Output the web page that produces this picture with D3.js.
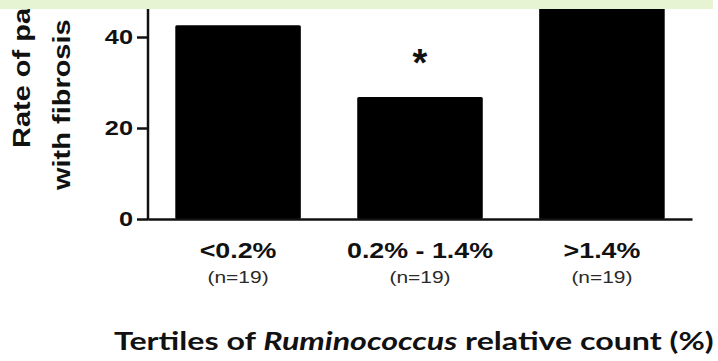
<!DOCTYPE html>
<html>
<head>
<meta charset="utf-8">
<script src="https://cdn.jsdelivr.net/npm/d3@7"></script>
<style>
  html, body { margin: 0; padding: 0; background: #fff; }
  svg { display: block; }
</style>
</head>
<body>
<script>
// Fibrosis rate by Ruminococcus tertile
const categories = ["<0.2%", "0.2% - 1.4%", ">1.4%"];
const groupSizes = ["(n=19)", "(n=19)", "(n=19)"];
const rates = [42.6, 26.8, 52.6];
const significance = ["", "*", ""];
const yTicks = [0, 20, 40];
const yLabelLines = ["Rate of patients", "with fibrosis"];
const xTitleParts = [
  { text: "Tertiles of ", italic: false },
  { text: "Ruminococcus", italic: true },
  { text: " relative count (%)", italic: false }
];

const W = 718, H = 361;
const ink = "#111";
const sans = "'Liberation Sans', Arial, Helvetica, sans-serif";

const svg = d3.select("body").append("svg")
  .attr("width", W).attr("height", H);

svg.append("rect").attr("width", W).attr("height", H).attr("fill", "#fff");

const x = d3.scaleBand()
  .domain(categories)
  .range([148, 692])
  .paddingInner(0.31)
  .paddingOuter(0.15);

const y = d3.scaleLinear()
  .domain([0, 40])
  .range([219, 37]);

// widen glyphs horizontally around each label's anchor point
function stretchX(sel, k) {
  sel.each(function () {
    const t = d3.select(this);
    const tx = +t.attr("x") || 0, ty = +t.attr("y") || 0;
    t.attr("x", 0).attr("y", 0)
     .attr("transform", `translate(${tx},${ty}) scale(${k},1)`);
  });
}

// bars
svg.append("g").selectAll("rect")
  .data(rates)
  .join("rect")
  .attr("x", (d, i) => x(categories[i]))
  .attr("y", d => y(d))
  .attr("width", x.bandwidth())
  .attr("height", d => y(0) - y(d))
  .attr("rx", 1.5)
  .attr("fill", "#000");

// significance marks
svg.append("g").selectAll("text")
  .data(rates)
  .join("text")
  .attr("x", (d, i) => x(categories[i]) + x.bandwidth() / 2)
  .attr("y", d => y(d) - 21)
  .attr("text-anchor", "middle")
  .attr("font-family", sans)
  .attr("font-weight", "bold")
  .attr("font-size", 38)
  .attr("fill", ink)
  .text((d, i) => significance[i]);

// y axis
const yAxis = svg.append("g")
  .attr("transform", `translate(${x.range()[0]},0)`)
  .call(d3.axisLeft(y).tickValues(yTicks).tickSize(11).tickPadding(4).tickSizeOuter(0));
yAxis.select(".domain").remove();
yAxis.selectAll(".tick line").attr("stroke", ink).attr("stroke-width", 2.5);
yAxis.selectAll(".tick text")
  .attr("font-family", sans)
  .attr("font-weight", "bold")
  .attr("font-size", 19.5)
  .attr("fill", ink)
  .call(stretchX, 1.3);

svg.append("line")
  .attr("x1", x.range()[0]).attr("x2", x.range()[0])
  .attr("y1", y(0) + 1.25).attr("y2", 0)
  .attr("stroke", ink).attr("stroke-width", 2.5);

// x axis with category labels
const xAxis = svg.append("g")
  .attr("transform", `translate(0,${y(0)})`)
  .call(d3.axisBottom(x).tickSize(0).tickPadding(23).tickSizeOuter(0));
xAxis.select(".domain").attr("stroke", ink).attr("stroke-width", 2.5);
xAxis.selectAll(".tick text")
  .attr("font-family", sans)
  .attr("font-weight", "bold")
  .attr("font-size", 22)
  .attr("fill", ink)
  .call(stretchX, 1.22);

// group sizes under each category
svg.append("g").selectAll("text")
  .data(groupSizes)
  .join("text")
  .attr("x", (d, i) => x(categories[i]) + x.bandwidth() / 2)
  .attr("y", 283)
  .attr("text-anchor", "middle")
  .attr("font-family", sans)
  .attr("font-size", 16.5)
  .attr("fill", "#2a2a2a")
  .text(d => d)
  .call(stretchX, 1.27);

// y axis title, two rotated lines
svg.append("g").selectAll("text")
  .data(yLabelLines)
  .join("text")
  .attr("transform", (d, i) => `translate(${[30, 70][i]},${[148, 190][i]}) rotate(-90) scale(1.26,1)`)
  .attr("text-anchor", "start")
  .attr("font-family", sans)
  .attr("font-weight", "bold")
  .attr("font-size", 23)
  .attr("fill", ink)
  .text(d => d);

// x axis title
const title = svg.append("text")
  .attr("font-family", "Lato, 'Open Sans', sans-serif")
  .attr("font-weight", "bold")
  .attr("font-size", 25)
  .attr("fill", ink)
  .attr("text-anchor", "start");
title.selectAll("tspan")
  .data(xTitleParts)
  .join("tspan")
  .attr("font-style", d => d.italic ? "italic" : "normal")
  .text(d => d.text);
const natural = title.node().getComputedTextLength();
const titleLeft = 114, titleWidth = 600;
title.attr("transform", `translate(${titleLeft},350) scale(${titleWidth / natural},1)`);

// pale green strip across the top
svg.append("rect")
  .attr("x", 0).attr("y", 0)
  .attr("width", 713).attr("height", 9)
  .attr("fill", "#e6f4d4");
</script>
</body>
</html>
